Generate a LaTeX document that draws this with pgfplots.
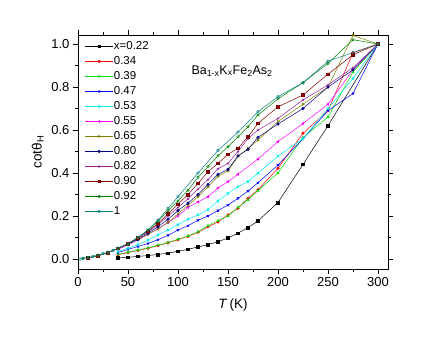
\documentclass[border=0pt]{standalone}
\usepackage{pgfplots}
\pgfplotsset{compat=1.18}
\usepackage{fontspec}
\setmainfont{Liberation Sans}
\usetikzlibrary{plotmarks}
\definecolor{cBlack}{RGB}{0,0,0}
\definecolor{cRed}{RGB}{255,0,0}
\definecolor{cGreen}{RGB}{0,225,0}
\definecolor{cBlue}{RGB}{0,0,255}
\definecolor{cCyan}{RGB}{0,240,240}
\definecolor{cMagenta}{RGB}{255,0,255}
\definecolor{cDYellow}{RGB}{128,128,0}
\definecolor{cNavy}{RGB}{0,0,128}
\definecolor{cPurple}{RGB}{150,30,150}
\definecolor{cWine}{RGB}{128,0,0}
\definecolor{cOlive}{RGB}{0,128,0}
\definecolor{cDCyan}{RGB}{0,128,128}
\begin{document}
\begin{tikzpicture}
\useasboundingbox (0,0) rectangle (436bp,337bp);
\begin{axis}[
  at={(78bp,68bp)}, anchor=south west,
  width=310bp, height=234bp, scale only axis,
  xmin=0, xmax=310, ymin=-0.0465, ymax=1.042,
  xtick={0,50,...,300}, ytick={0,0.2,...,1.0},
  minor x tick num=1, minor y tick num=1,
  tick align=outside, major tick length=5bp, minor tick length=3bp,
  axis line style={line width=0.7pt}, every tick/.style={line width=0.6pt, black},
  tick label style={font=\fontsize{13bp}{15bp}\selectfont},
  /pgf/number format/assume math mode=true,
  yticklabel style={/pgf/number format/.cd, fixed, fixed zerofill, precision=1},
  xlabel={\textit{T}\,(K)}, ylabel={cotθ\textsubscript{H}},
  label style={font=\fontsize{13.5bp}{16bp}\selectfont},
  xlabel style={at={(axis description cs:0.5,-0.155)}, anchor=center},
  ylabel style={at={(axis description cs:-0.13,0.5)}, anchor=center},
  legend style={at={(rel axis cs:0.012,0.985)}, anchor=north west, draw=none, fill=none,
    font=\fontsize{11.5bp}{13bp}\selectfont, row sep=3.5bp,
    nodes={inner sep=0.5bp, text height=8.5bp, text depth=2bp}},
  legend cell align=left,
  legend image code/.code={\draw[mark repeat=2,mark phase=2] plot coordinates {(0bp,0bp)(14bp,0bp)(28bp,0bp)};},
  every axis plot/.append style={line width=0.5pt, mark size=1.3pt},
]
\addplot[cBlack, mark=square*] coordinates {(40,0.005)(50,0.008)(60,0.012)(70,0.016)(80,0.021)(90,0.027)(100,0.036)(110,0.045)(120,0.056)(130,0.067)(140,0.08)(150,0.098)(160,0.12)(170,0.146)(180,0.177)(200,0.263)(225,0.44)(250,0.62)(300,1.0)};
\addlegendentry{x=0.22}
\addplot[cRed, mark=*] coordinates {(40,0.02)(50,0.03)(60,0.04)(70,0.05)(80,0.062)(90,0.075)(100,0.09)(110,0.105)(120,0.124)(130,0.15)(140,0.172)(150,0.205)(160,0.236)(170,0.282)(180,0.322)(200,0.422)(225,0.585)(250,0.69)(275,0.96)(300,1.0)};
\addlegendentry{0.34}
\addplot[cGreen, mark=triangle*] coordinates {(40,0.022)(50,0.032)(60,0.042)(70,0.052)(80,0.064)(90,0.077)(100,0.092)(110,0.107)(120,0.127)(130,0.155)(140,0.178)(150,0.2)(160,0.24)(170,0.275)(180,0.318)(200,0.40)(225,0.565)(250,0.66)(275,0.87)(300,1.0)};
\addlegendentry{0.39}
\addplot[cBlue, mark=triangle*, mark options={rotate=180}] coordinates {(40,0.03)(50,0.045)(60,0.058)(70,0.072)(80,0.09)(90,0.11)(100,0.135)(110,0.155)(120,0.18)(130,0.2)(140,0.225)(150,0.251)(160,0.282)(170,0.316)(180,0.355)(200,0.437)(225,0.56)(250,0.69)(275,0.77)(300,1.0)};
\addlegendentry{0.47}
\addplot[cCyan, mark=diamond*] coordinates {(40,0.035)(50,0.05)(60,0.067)(70,0.088)(80,0.112)(90,0.135)(100,0.16)(110,0.185)(120,0.205)(130,0.23)(140,0.27)(150,0.305)(160,0.336)(170,0.36)(180,0.399)(200,0.479)(225,0.56)(250,0.70)(275,0.84)(300,1.0)};
\addlegendentry{0.53}
\addplot[cMagenta, mark=triangle*, mark options={rotate=90}] coordinates {(40,0.045)(50,0.065)(60,0.09)(70,0.115)(80,0.14)(90,0.17)(100,0.2)(110,0.24)(120,0.265)(130,0.29)(140,0.33)(150,0.36)(160,0.394)(180,0.465)(200,0.546)(225,0.63)(250,0.72)(275,0.88)(300,1.0)};
\addlegendentry{0.55}
\addplot[cDYellow, mark=triangle*, mark options={rotate=-90}] coordinates {(40,0.05)(50,0.07)(60,0.09)(70,0.115)(80,0.14)(90,0.17)(100,0.21)(110,0.25)(120,0.29)(130,0.335)(140,0.385)(150,0.41)(160,0.476)(170,0.515)(180,0.553)(200,0.639)(225,0.72)(250,0.80)(275,1.04)(300,1.0)};
\addlegendentry{0.65}
\addplot[cNavy, mark=*] coordinates {(40,0.05)(50,0.07)(60,0.09)(70,0.12)(80,0.15)(90,0.185)(100,0.225)(110,0.26)(120,0.3)(130,0.347)(140,0.394)(150,0.417)(160,0.48)(170,0.51)(180,0.566)(200,0.628)(225,0.70)(250,0.80)(275,0.88)(300,1.0)};
\addlegendentry{0.80}
\addplot[cPurple, mark=star] coordinates {(20,0.015)(30,0.03)(40,0.048)(50,0.07)(60,0.095)(70,0.125)(80,0.16)(90,0.2)(100,0.24)(110,0.28)(120,0.325)(130,0.37)(140,0.42)(150,0.445)(160,0.5)(170,0.56)(180,0.60)(200,0.654)(225,0.74)(250,0.81)(275,0.89)(300,1.0)};
\addlegendentry{0.82}
\addplot[cWine, mark=square*] coordinates {(10,0.005)(20,0.015)(30,0.03)(40,0.05)(50,0.072)(60,0.1)(70,0.13)(80,0.165)(90,0.21)(100,0.255)(110,0.3)(120,0.352)(130,0.406)(140,0.445)(150,0.487)(160,0.515)(170,0.569)(180,0.631)(200,0.708)(225,0.763)(250,0.86)(275,0.95)(300,1.0)};
\addlegendentry{0.90}
\addplot[cOlive, mark=o] coordinates {(5,0.003)(10,0.007)(20,0.016)(30,0.03)(40,0.05)(50,0.07)(60,0.1)(70,0.135)(80,0.175)(90,0.225)(100,0.27)(110,0.32)(120,0.38)(130,0.43)(140,0.48)(150,0.522)(160,0.569)(170,0.615)(180,0.67)(200,0.745)(225,0.82)(250,0.91)(275,1.02)(300,1.0)};
\addlegendentry{0.92}
\addplot[cDCyan, mark=pentagon] coordinates {(2,0.0)(5,0.003)(10,0.007)(15,0.012)(20,0.018)(25,0.025)(30,0.032)(35,0.04)(40,0.05)(50,0.07)(60,0.1)(70,0.135)(80,0.18)(90,0.235)(100,0.29)(120,0.40)(140,0.505)(160,0.59)(180,0.685)(200,0.755)(225,0.82)(250,0.92)(275,0.96)(300,1.0)};
\addlegendentry{1}
\node[anchor=west, font=\fontsize{12.5bp}{14bp}\selectfont] at (axis cs:110,0.875) {Ba\textsubscript{1-x}K\textsubscript{x}Fe\textsubscript{2}As\textsubscript{2}};
\end{axis}
\end{tikzpicture}
\end{document}
